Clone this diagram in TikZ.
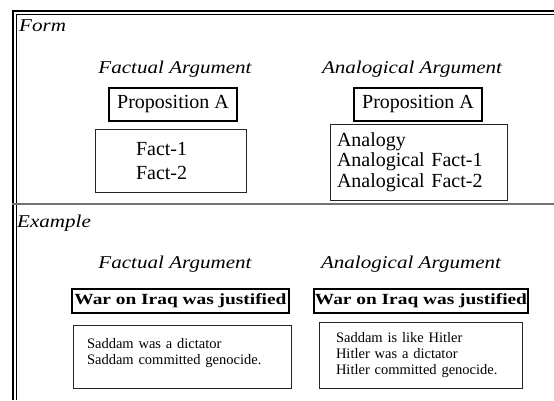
\documentclass[tikz,border=0pt]{standalone}
\usepackage{fontspec}
\setmainfont{Liberation Serif}
\newfontfamily\headfont[FakeStretch=1.17]{Liberation Serif}
\newfontfamily\claimfont[FakeStretch=1.25]{Liberation Serif}
\begin{document}
\begin{tikzpicture}[x=1pt,y=-1pt,
  thinbox/.style={draw=black!85,line width=0.9pt,inner ysep=0pt,minimum height=#1,outer sep=0pt},
  thickbox/.style={draw=black,line width=2.2pt,inner sep=0pt,minimum height=#1,outer sep=0pt},
  head/.style={font=\headfont\itshape\fontsize{18}{21}\selectfont,inner sep=0pt,anchor=base},
  label/.style={font=\headfont\itshape\fontsize{18}{21}\selectfont,inner sep=0pt,anchor=base west},
  big/.style={font=\fontsize{20}{24}\selectfont},
  small/.style={font=\fontsize{14.5}{16}\selectfont},
  claim/.style={font=\claimfont\bfseries\fontsize{15.5}{18}\selectfont}]
\useasboundingbox (0,0) rectangle (554,400);
% outer frame
\draw[line width=2pt] (12.5,400) -- (12.5,10.5) -- (554,10.5);
\draw[line width=0.8pt] (16,400) -- (16,14) -- (554,14);
\draw[line width=1.8pt,black!55] (12,204) -- (554,204);
% Form section
\node[label] (form) at (19,31) {Form};
\node[head] (fa1) at (175,73) {Factual Argument};
\node[head] (aa1) at (412,73) {Analogical Argument};
\node[thickbox=33,big,minimum width=128] (pa1) at (173,104.5) {Proposition A};
\node[thickbox=33,big,minimum width=128] (pa2) at (418,104.5) {Proposition A};
\node[thinbox=63,big,inner xsep=41pt,text width=69pt,align=left] (facts) at (170.5,160.5) {Fact-1\\Fact-2};
\node[thinbox=76,inner xsep=7pt,text width=163pt,align=left,font=\fontsize{20}{20.5}\selectfont] (analog) at (418.5,162) {Analogy\\Analogical Fact-1\\Analogical Fact-2};
% Example section
\node[label] (example) at (17,227) {Example};
\node[head] (fa2) at (175,268) {Factual Argument};
\node[head] (aa2) at (411,268) {Analogical Argument};
\node[thickbox=24,claim,minimum width=217] (war1) at (180.5,301) {War on Iraq was justified};
\node[thickbox=24,claim,minimum width=214] (war2) at (421,301) {War on Iraq was justified};
\node[thinbox=63,small,inner xsep=14pt,text width=190pt,align=left] (sad1) at (182,356.5) {Saddam was a dictator\\Saddam committed genocide.\\[-5pt]\mbox{}};
\node[thinbox=66,small,inner xsep=17pt,text width=169pt,align=left] (sad2) at (420.5,355) {Saddam is like Hitler\\Hitler was a dictator\\Hitler committed genocide.};
\end{tikzpicture}
\end{document}
